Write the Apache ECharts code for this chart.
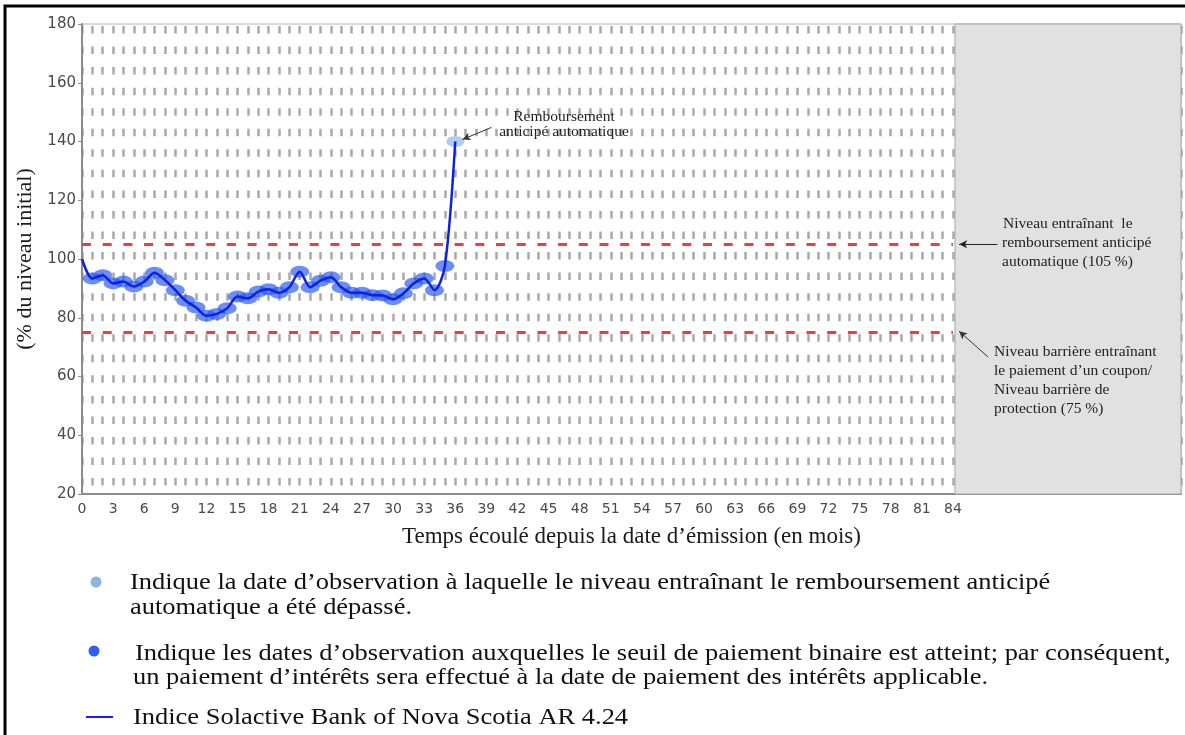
<!DOCTYPE html>
<html>
<head>
<meta charset="utf-8">
<script src="https://cdn.jsdelivr.net/npm/echarts@6/dist/echarts.min.js"></script>
<style>html,body{margin:0;padding:0;background:#fff}#c{width:1185px;height:735px}</style>
</head>
<body>
<div id="c"></div>
<script>
// ---- data ----
const months = [0,1,2,3,4,5,6,7,8,9,10,11,12,13,14,15,16,17,18,19,20,21,22,23,24,25,26,27,28,29,30,31,32,33,34,35,36];
const indexLevel = [100,93.4,94.5,91.7,92.3,90.6,92.3,95.3,92.8,89.4,85.8,83.5,80.7,81.3,83.2,87.2,86.6,88.9,89.7,88.5,90.4,95.7,90.4,92.6,93.8,90.4,88.5,88.5,87.7,87.6,86.3,88.3,91.7,93.4,89.4,97.6,140];
const couponMonths = [1,2,3,4,5,6,7,8,9,10,11,12,13,14,15,16,17,18,19,20,21,22,23,24,25,26,27,28,29,30,31,32,33,34,35];
const autocallMonth = 36;
const autocallLevel = 105;
const barrierLevel = 75;
const termMonths = 84;
const xTickStep = 3;
const yTicks = [20,40,60,80,100,120,140,160,180];

const levelAt = m => indexLevel[months.indexOf(m)];
const couponData = couponMonths.map(m => [m, levelAt(m)]);
const autocallData = [[autocallMonth, levelAt(autocallMonth)]];
const lineData = months.map((m, i) => [m, indexLevel[i]]);

const serif = '"Liberation Serif", "Times New Roman", serif';
const chart = echarts.init(document.getElementById('c'));

function txt(x, y, text, size, opts) {
  opts = opts || {};
  return {
    type: 'text', x: x, y: y, z: 100, scaleX: opts.scaleX || 1, silent: true,
    style: { text: text, font: size + 'px ' + serif, fill: opts.fill || '#1a1a1a', align: opts.align || 'left', verticalAlign: 'middle' }
  };
}
const LS = 1.15; // legend horizontal stretch

chart.setOption({
  backgroundColor: '#fff',
  animation: false,
  grid: { left: 82, right: 4, top: 24, bottom: 241, show: true, borderColor: '#b4b4b4', borderWidth: 1 },
  xAxis: {
    type: 'value', min: 0, max: 106, interval: 1,
    name: 'Temps écoulé depuis la date d’émission (en mois)',
    nameLocation: 'middle', nameGap: 31,
    nameTextStyle: { fontFamily: serif, fontSize: 23, color: '#1a1a1a' },
    axisLine: { show: true, lineStyle: { color: '#8c8c8c', width: 2 } },
    axisTick: { show: false },
    axisLabel: {
      margin: 8, fontFamily: 'DejaVu Sans', fontSize: 14, color: '#4a4a4a',
      formatter: v => (v % xTickStep === 0 && v <= termMonths) ? String(v) : ''
    },
    splitLine: { show: true, lineStyle: { color: '#a9a9a9', width: 2.5, type: [7.5, 13.05], dashOffset: -2 } }
  },
  yAxis: {
    type: 'value', min: yTicks[0], max: yTicks[yTicks.length - 1], interval: 20,
    name: '(% du niveau initial)', nameLocation: 'middle', nameGap: 44,
    nameTextStyle: { fontFamily: serif, fontSize: 22, color: '#1a1a1a' },
    axisLine: { show: true, lineStyle: { color: '#8c8c8c', width: 2 } },
    axisTick: { show: true, length: 4, lineStyle: { color: '#8c8c8c' } },
    axisLabel: { margin: 6, fontFamily: 'DejaVu Sans', fontSize: 15, color: '#4a4a4a' },
    splitLine: { show: false }
  },
  series: [
    {
      type: 'scatter', name: 'coupon', data: couponData, z: 3,
      symbol: 'circle', symbolSize: [19, 12],
      itemStyle: { color: 'rgba(40,90,240,0.85)' },
      markArea: {
        silent: true,
        itemStyle: { color: '#e1e1e1', borderColor: '#a6a6a6', borderWidth: 1 },
        data: [[{ coord: [termMonths + 0.2, yTicks[yTicks.length - 1]] }, { coord: [106, yTicks[0]] }]]
      }
    },
    {
      type: 'scatter', name: 'autocall', data: autocallData, z: 3,
      symbol: 'circle', symbolSize: [18, 11],
      itemStyle: { color: '#9dbfee' }
    },
    {
      type: 'line', name: 'Indice', data: lineData, z: 4,
      showSymbol: false, smooth: 0.3,
      lineStyle: { color: '#0c22e0', width: 2.5 },
      markLine: {
        silent: true, animation: false,
        label: { show: false },
        symbol: ['none', 'none'],
        data: [
          [{ coord: [0, autocallLevel], lineStyle: { color: '#f23c3c', width: 3, type: [9, 11.7] } }, { coord: [termMonths, autocallLevel] }],
          [{ coord: [0, barrierLevel], lineStyle: { color: '#f23c3c', width: 3, type: [9, 11.7] } }, { coord: [termMonths, barrierLevel] }],
          [{ coord: [88.3, autocallLevel], symbol: 'none', lineStyle: { color: '#222', width: 1, type: 'solid' } }, { coord: [84.6, autocallLevel], symbol: 'arrow', symbolSize: [6, 8] }],
          [{ coord: [87.4, 66.6], symbol: 'none', lineStyle: { color: '#333', width: 1, type: 'solid' } }, { coord: [84.6, 75.4], symbol: 'arrow', symbolSize: [6, 8] }],
          [{ coord: [39.5, 144.8], symbol: 'none', lineStyle: { color: '#333', width: 1, type: 'solid' } }, { coord: [36.7, 140.7], symbol: 'arrow', symbolSize: [6, 8] }]
        ]
      }
    }
  ],
  graphic: [
    { type: 'rect', z: 100, silent: true, shape: { x: 5, y: 6, width: 1200, height: 760 }, style: { fill: 'none', stroke: '#000', lineWidth: 3 } },
    txt(564, 117, 'Remboursement', 15.5, { align: 'center', fill: '#222' }),
    txt(564, 132, 'anticipé automatique', 15.5, { align: 'center', fill: '#222' }),
    txt(1003, 224, 'Niveau entraînant  le', 15.5, { fill: '#222' }),
    txt(1002, 243, 'remboursement anticipé', 15.5, { fill: '#222' }),
    txt(1002, 262, 'automatique (105 %)', 15.5, { fill: '#222' }),
    txt(994, 352, 'Niveau barrière entraînant', 15.5, { fill: '#222' }),
    txt(994, 371, 'le paiement d’un coupon/', 15.5, { fill: '#222' }),
    txt(994, 390, 'Niveau barrière de', 15.5, { fill: '#222' }),
    txt(994, 409, 'protection (75 %)', 15.5, { fill: '#222' }),

    { type: 'circle', z: 100, shape: { cx: 96, cy: 582, r: 5.5 }, style: { fill: '#8fb3e3' } },
    txt(130, 583, 'Indique la date d’observation à laquelle le niveau entraînant le remboursement anticipé', 23, { scaleX: LS, fill: '#111' }),
    txt(130, 608, 'automatique a été dépassé.', 23, { scaleX: LS, fill: '#111' }),
    { type: 'circle', z: 100, shape: { cx: 94, cy: 651, r: 5.5 }, style: { fill: '#2f5ff5' } },
    txt(135, 654, 'Indique les dates d’observation auxquelles le seuil de paiement binaire est atteint; par conséquent,', 23, { scaleX: LS, fill: '#111' }),
    txt(133, 678, 'un paiement d’intérêts sera effectué à la date de paiement des intérêts applicable.', 23, { scaleX: LS, fill: '#111' }),
    { type: 'line', z: 100, shape: { x1: 86, y1: 717, x2: 113, y2: 717 }, style: { stroke: '#1a1aff', lineWidth: 2 } },
    txt(133, 718, 'Indice Solactive Bank of Nova Scotia AR 4.24', 23, { scaleX: LS, fill: '#111' })
  ]
});
</script>
</body>
</html>
